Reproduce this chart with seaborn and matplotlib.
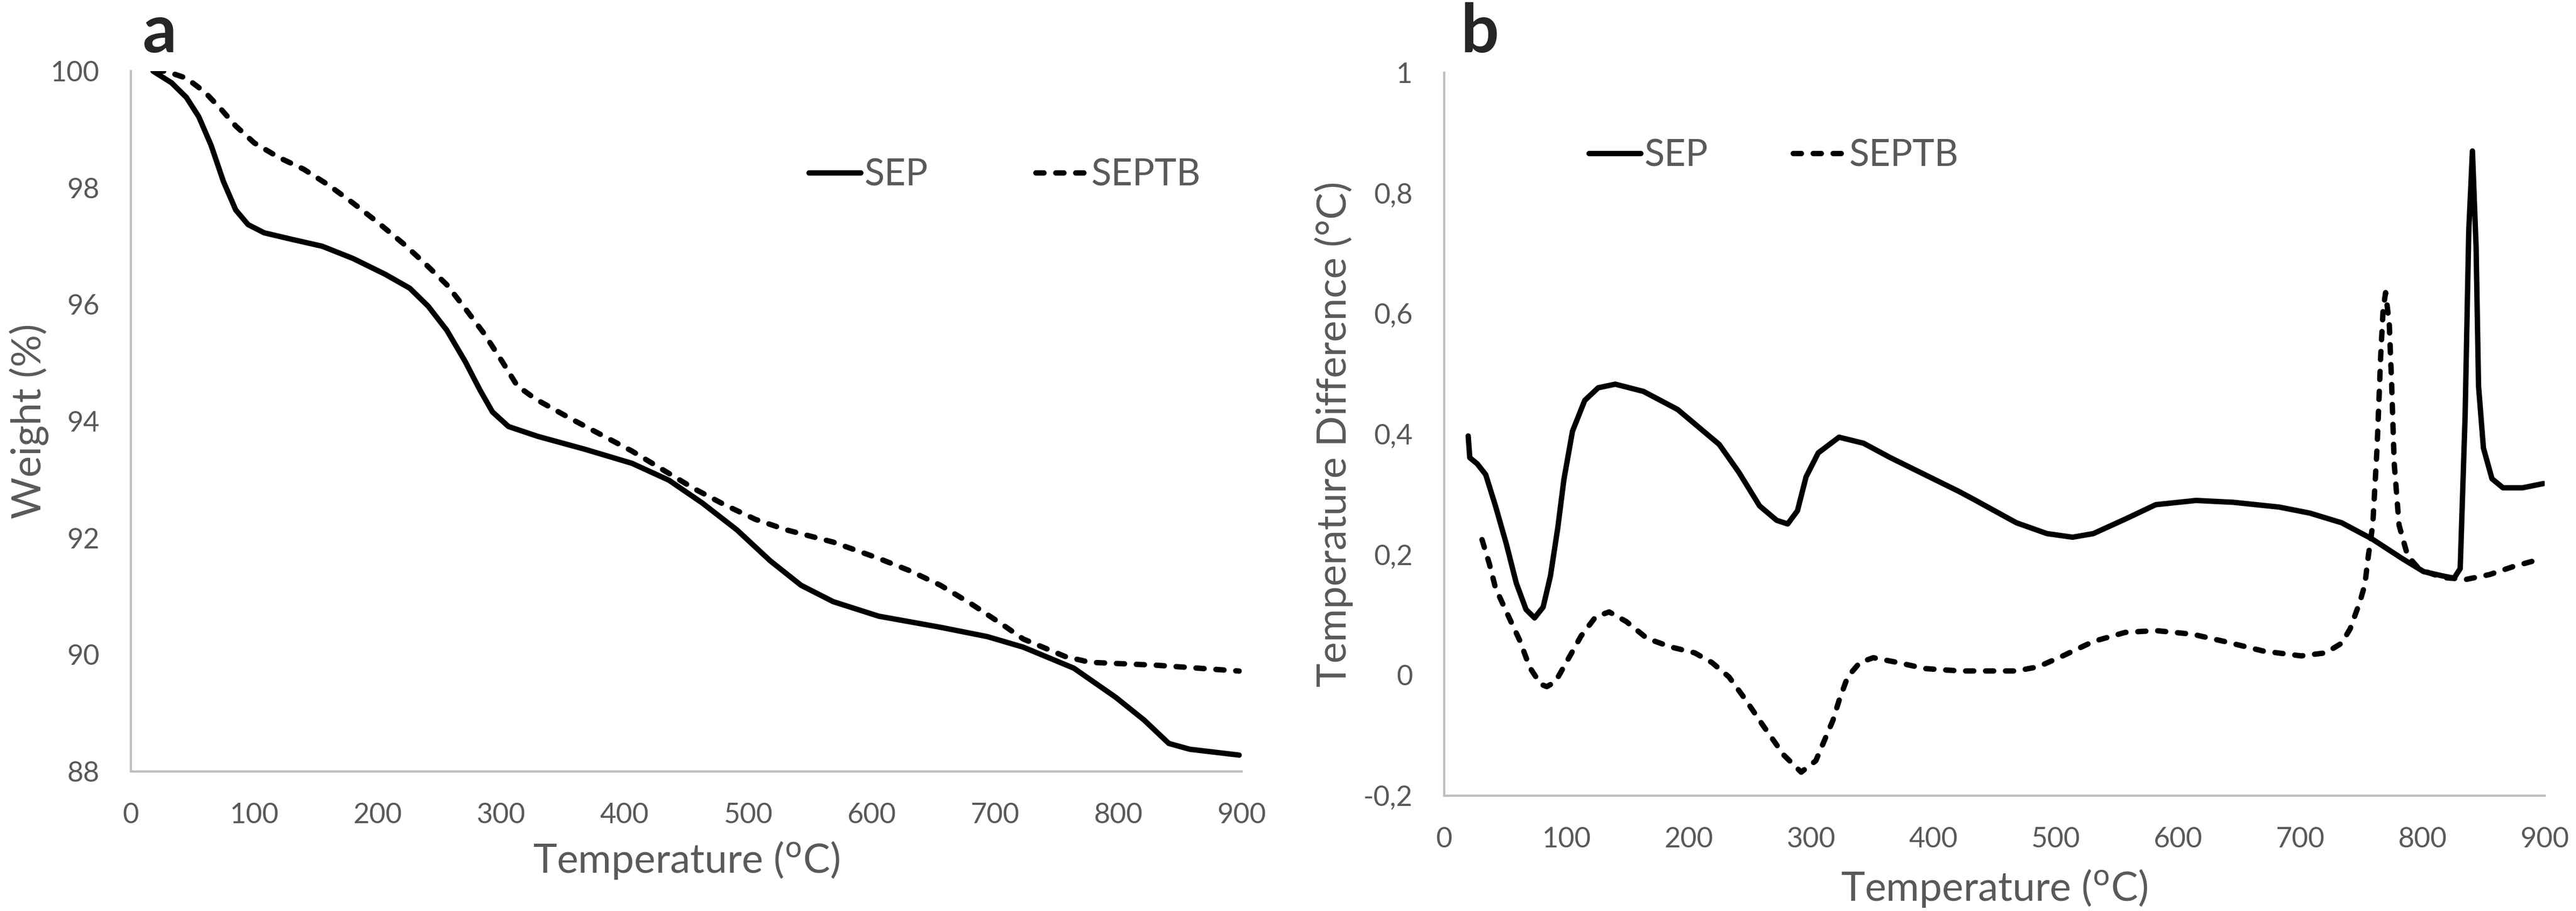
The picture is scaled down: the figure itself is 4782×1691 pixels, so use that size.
import numpy as np
import pandas as pd
import seaborn as sns
import matplotlib.pyplot as plt

# ---------------- Data ----------------
# (a) TGA - weight loss
tga_sep_temp = [18, 33, 45, 55, 65, 75, 85, 95, 108, 130, 155, 180, 206, 226, 241, 256, 271,
                283, 293, 306, 330, 368, 406, 436, 463, 491, 518, 543, 569, 606, 656, 694,
                723, 764, 798, 821, 841, 858, 898]
tga_sep_weight = [100.0, 99.80, 99.55, 99.22, 98.73, 98.11, 97.62, 97.37, 97.23, 97.12, 97.00,
                  96.79, 96.52, 96.28, 95.97, 95.56, 95.02, 94.53, 94.16, 93.91, 93.74, 93.52,
                  93.28, 92.99, 92.60, 92.14, 91.61, 91.19, 90.91, 90.66, 90.47, 90.31, 90.13,
                  89.77, 89.27, 88.88, 88.48, 88.38, 88.28]

tga_septb_temp = [20, 28, 45, 60, 73, 85, 100, 120, 140, 160, 180, 200, 221, 238, 256, 271,
                  286, 301, 313, 328, 356, 381, 406, 431, 456, 481, 506, 531, 569, 606, 631,
                  656, 681, 706, 723, 757, 777, 831, 898]
tga_septb_weight = [100.0, 100.0, 99.88, 99.64, 99.35, 99.06, 98.77, 98.52, 98.32, 98.05,
                    97.74, 97.41, 97.04, 96.71, 96.34, 95.93, 95.51, 95.02, 94.61, 94.38,
                    94.05, 93.77, 93.49, 93.17, 92.85, 92.57, 92.32, 92.14, 91.93, 91.65,
                    91.44, 91.19, 90.87, 90.52, 90.27, 89.97, 89.87, 89.82, 89.72]

# (b) DTA - temperature difference
dta_sep_temp = [19.7, 21, 27, 34, 42, 51, 59, 67, 74, 81, 87, 93, 98, 105, 115, 126, 140, 163,
                191, 225, 241, 258, 272, 281, 289, 296, 306, 323, 343, 365, 399, 421, 433,
                468, 493, 514, 531, 557, 582, 615, 645, 683, 708, 734, 759, 784, 801, 816,
                826, 831, 835, 838, 841, 844, 846, 850, 857, 866, 882, 899]
dta_sep_diff = [0.397, 0.361, 0.351, 0.333, 0.281, 0.217, 0.153, 0.109, 0.095, 0.113, 0.165,
                0.245, 0.325, 0.405, 0.456, 0.477, 0.483, 0.471, 0.441, 0.383, 0.337, 0.281,
                0.257, 0.251, 0.273, 0.329, 0.369, 0.395, 0.385, 0.361, 0.327, 0.305, 0.292,
                0.253, 0.235, 0.229, 0.235, 0.259, 0.283, 0.290, 0.287, 0.279, 0.269, 0.253,
                0.226, 0.193, 0.172, 0.165, 0.161, 0.177, 0.429, 0.737, 0.870, 0.711, 0.480,
                0.377, 0.326, 0.311, 0.311, 0.318]

dta_septb_temp = [31, 37, 42, 51, 62, 70, 79, 84, 91, 101, 112, 124, 135, 149, 166, 185, 205,
                  219, 233, 247, 261, 278, 292, 304, 318, 323, 330, 340, 351, 371, 393, 422,
                  468, 486, 506, 531, 557, 582, 612, 638, 670, 701, 721, 734, 741, 749, 753,
                  756, 759.5, 763, 766, 768, 770, 773, 775, 777, 781, 788, 798, 817, 836, 855,
                  874, 897]
dta_septb_diff = [0.225, 0.185, 0.145, 0.105, 0.057, 0.013, -0.015, -0.019, -0.011, 0.025,
                  0.065, 0.097, 0.105, 0.089, 0.061, 0.047, 0.037, 0.021, -0.003, -0.042,
                  -0.084, -0.133, -0.161, -0.142, -0.075, -0.042, -0.003, 0.021, 0.029, 0.021,
                  0.011, 0.007, 0.007, 0.014, 0.032, 0.056, 0.071, 0.074, 0.068, 0.056, 0.040,
                  0.032, 0.037, 0.053, 0.077, 0.122, 0.150, 0.200, 0.250, 0.377, 0.531, 0.608,
                  0.635, 0.583, 0.480, 0.352, 0.249, 0.198, 0.175, 0.162, 0.159, 0.167, 0.180,
                  0.193]

x_ticks = [0, 100, 200, 300, 400, 500, 600, 700, 800, 900]
tga_y_ticks = [88, 90, 92, 94, 96, 98, 100]
dta_y_ticks = [-0.2, 0, 0.2, 0.4, 0.6, 0.8, 1]
dta_y_labels = ["-0,2", "0", "0,2", "0,4", "0,6", "0,8", "1"]

# ---------------- Style ----------------
sns.set_style("white")
plt.rcParams['font.family'] = ['Lato', 'DejaVu Sans']
grey = "#595959"
axis_col = "#BFBFBF"

fig = plt.figure(figsize=(4782 / 300, 1691 / 300), dpi=300)
ax1 = fig.add_axes([0.0508, 0.1532, 0.4312, 0.7687])
ax2 = fig.add_axes([0.5606, 0.1266, 0.4272, 0.7936])

lw = 2.4
dash = (1.5, 2.2)

# ---------------- Panel a ----------------
sns.lineplot(x=tga_sep_temp, y=tga_sep_weight, ax=ax1, color="black", lw=lw, label="SEP",
             sort=False, solid_capstyle="round", solid_joinstyle="round")
sns.lineplot(x=tga_septb_temp, y=tga_septb_weight, ax=ax1, color="black", lw=lw, label="SEPTB",
             sort=False, dashes=False, linestyle=(0, dash), dash_capstyle="round")
ax1.set_xlim(0, 900)
ax1.set_ylim(88, 100)
ax1.set_xticks(x_ticks)
ax1.set_yticks(tga_y_ticks)
ax1.set_xlabel("Temperature ($^{\\mathrm{o}}$C)", fontsize=18, color=grey, va="center")
ax1.set_ylabel("Weight (%)", fontsize=18, color=grey, va="center")
ax1.xaxis.set_label_coords(0.5, -0.127)
ax1.yaxis.set_label_coords(-0.0917, 0.5)
ax1.legend(loc="center", bbox_to_anchor=(0.787, 0.8515), ncol=2, frameon=False, fontsize=16.5,
           handlelength=1.4, handletextpad=0.1, columnspacing=2.9, labelcolor=grey)

# ---------------- Panel b ----------------
sns.lineplot(x=dta_sep_temp, y=dta_sep_diff, ax=ax2, color="black", lw=lw, label="SEP",
             sort=False, solid_capstyle="round", solid_joinstyle="round")
sns.lineplot(x=dta_septb_temp, y=dta_septb_diff, ax=ax2, color="black", lw=lw, label="SEPTB",
             sort=False, dashes=False, linestyle=(0, dash), dash_capstyle="round")
ax2.set_xlim(0, 900)
ax2.set_ylim(-0.2, 1)
ax2.set_xticks(x_ticks)
ax2.set_yticks(dta_y_ticks)
ax2.set_yticklabels(dta_y_labels)
ax2.set_xlabel("Temperature ($^{\\mathrm{o}}$C)", fontsize=18, color=grey, va="center")
ax2.set_ylabel("Temperature Difference (°C)", fontsize=18, color=grey, va="center")
ax2.xaxis.set_label_coords(0.5, -0.128)
ax2.yaxis.set_label_coords(-0.1003, 0.5)
ax2.legend(loc="center", bbox_to_anchor=(0.2996, 0.885), ncol=2, frameon=False, fontsize=16.5,
           handlelength=1.4, handletextpad=0.1, columnspacing=2.3, labelcolor=grey)

for ax in (ax1, ax2):
    sns.despine(ax=ax)
    ax.spines["left"].set_color(axis_col)
    ax.spines["bottom"].set_color(axis_col)
    ax.spines["left"].set_linewidth(1.0)
    ax.spines["bottom"].set_linewidth(1.0)
    ax.tick_params(axis="both", length=0, labelsize=12.5, labelcolor=grey, pad=14)

fig.text(0.0554, 0.9426, "a", fontsize=30, fontweight="bold", va="baseline", ha="left")
fig.text(0.5669, 0.9426, "b", fontsize=30, fontweight="bold", va="baseline", ha="left")

fig.savefig("out.png", dpi=300)
